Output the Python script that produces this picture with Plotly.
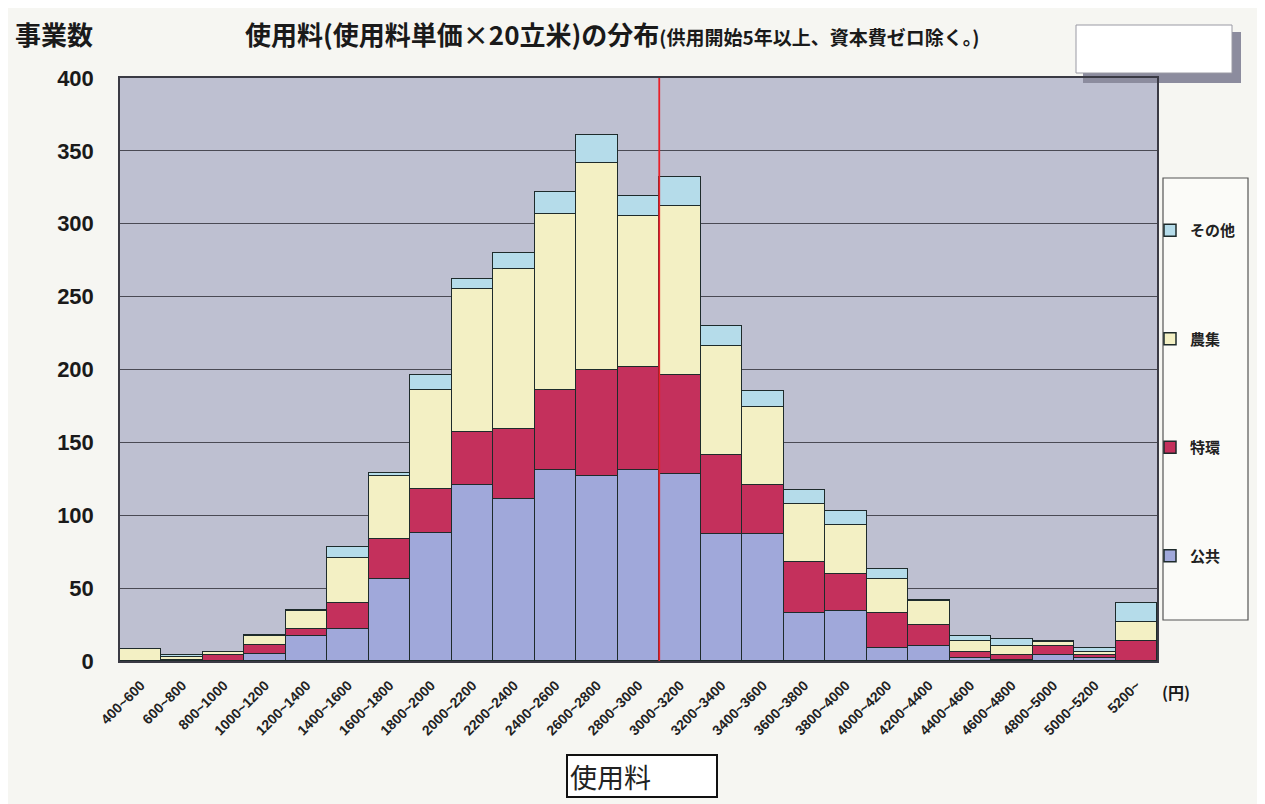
import plotly.graph_objects as go

categories = ["400~600", "600~800", "800~1000", "1000~1200", "1200~1400", "1400~1600",
              "1600~1800", "1800~2000", "2000~2200", "2200~2400", "2400~2600", "2600~2800",
              "2800~3000", "3000~3200", "3200~3400", "3400~3600", "3600~3800", "3800~4000",
              "4000~4200", "4200~4400", "4400~4600", "4600~4800", "4800~5000", "5000~5200",
              "5200~"]

kokyo = [0, 0, 0, 5, 17, 22, 56, 88, 121, 111, 131, 127, 131, 128, 87, 87, 33, 34, 9, 10, 2, 1, 4, 2, 0]
tokkan = [0, 1, 4, 6, 5, 18, 28, 30, 36, 48, 55, 73, 71, 68, 54, 34, 35, 26, 24, 15, 4, 3, 6, 2, 14]
noshu = [8, 2, 2, 6, 12, 31, 43, 68, 98, 110, 121, 142, 103, 116, 75, 53, 40, 33, 23, 16, 8, 6, 3, 2, 13]
sonota = [0, 1, 0, 1, 1, 7, 2, 10, 7, 11, 15, 19, 14, 20, 14, 11, 9, 10, 7, 1, 3, 5, 1, 3, 13]

series_names = ["公共", "特環", "農集", "その他"]
series_values = [kokyo, tokkan, noshu, sonota]
series_colors = ["#A0A8DA", "#C4305C", "#F3F0C4", "#B5DCEA"]

y_ticks = [0, 50, 100, 150, 200, 250, 300, 350, 400]
marker_category = "3000~3200"

# layout geometry: page pixels of the 1265x804 window; the page body has an 8px margin
OFF = 8
W, H = 1265 - OFF, 804 - OFF
PL, PR, PT, PB = 120, 1157, 78, 661


def px2x(px):
    return (px - PL) / (PR - PL)


def px2y(py):
    return (PB - py) / (PB - PT)


JP = "Noto Sans CJK JP"
LAT = "Liberation Sans"

fig = go.Figure()
n = len(series_names)
for i, (name, vals, col) in enumerate(zip(series_names, series_values, series_colors)):
    fig.add_trace(go.Bar(
        x=categories, y=vals, name=name, legendgroup=name, legendrank=n - i,
        marker=dict(color=col, line=dict(color="#1E2B2B", width=1.5)),
    ))

red_x = categories.index(marker_category) - 0.5

fig.update_layout(
    width=W, height=H,
    barmode="stack", bargap=0,
    paper_bgcolor="#F6F6F2", plot_bgcolor="#BEC0D1",
    margin=dict(l=PL - OFF, r=1265 - PR, t=PT - OFF, b=804 - PB, autoexpand=False),
    showlegend=True,
    legend=dict(
        x=px2x(1150), y=px2y(214), xanchor="left", yanchor="top",
        traceorder="grouped", tracegroupgap=86,
        bgcolor="rgba(0,0,0,0)", borderwidth=0,
        font=dict(family=JP, size=15, color="#222222", weight="bold"),
        itemwidth=30,
    ),
    xaxis=dict(
        type="category", tickangle=-45,
        tickfont=dict(family=LAT, size=14, color="#222222", weight="bold"),
        showline=True, linecolor="#3A3A44", linewidth=1.5, mirror=True,
        ticks="", ticklabelstandoff=9, showgrid=False,
    ),
    yaxis=dict(
        range=[0, 400], tickvals=y_ticks,
        tickfont=dict(family=LAT, size=22, color="#1A1A1A", weight="bold"),
        showgrid=True, gridcolor="#4A4A54", gridwidth=1.4,
        showline=True, linecolor="#3A3A44", linewidth=1.5, mirror=True,
        zeroline=False, ticks="", ticklabelstandoff=20,
    ),
    shapes=[
        # outer frame
        dict(type="rect", xref="paper", yref="paper",
             x0=px2x(5), x1=px2x(1262), y0=px2y(830), y1=px2y(7),
             line=dict(color="#666666", width=1.5), fillcolor="rgba(0,0,0,0)", layer="below"),
        # top-right box shadow
        dict(type="rect", xref="paper", yref="paper",
             x0=px2x(1083), x1=px2x(1241), y0=px2y(83), y1=px2y(32),
             line=dict(width=0), fillcolor="#8C8C9E", layer="below"),
        # top-right box
        dict(type="rect", xref="paper", yref="paper",
             x0=px2x(1076), x1=px2x(1232), y0=px2y(73), y1=px2y(25),
             line=dict(color="#9A9AA4", width=1), fillcolor="#FFFFFF", layer="below"),
        # legend box
        dict(type="rect", xref="paper", yref="paper",
             x0=px2x(1163), x1=px2x(1248), y0=px2y(620), y1=px2y(178),
             line=dict(color="#555555", width=1.2), fillcolor="#FBFBF8", layer="below"),
        # red reference line
        dict(type="line", xref="x", yref="paper",
             x0=red_x, x1=red_x, y0=0, y1=1,
             line=dict(color="#E8202A", width=1.8), layer="above"),
    ],
    annotations=[
        dict(text="<b>事業数</b>", xref="paper", yref="paper",
             x=px2x(54), y=px2y(33), xanchor="center", yanchor="middle",
             showarrow=False, font=dict(family=JP, size=26, color="#1A1A1A")),
        dict(text="<b>使用料(使用料単価×20立米)の分布</b>"
                  "<span style='font-size:19px'><b>(供用開始5年以上、資本費ゼロ除く。)</b></span>",
             xref="paper", yref="paper",
             x=px2x(243), y=px2y(33), xanchor="left", yanchor="middle",
             showarrow=False, font=dict(family=JP, size=26, color="#1A1A1A")),
        dict(text="<b>(円)</b>", xref="paper", yref="paper",
             x=px2x(1176), y=px2y(692), xanchor="center", yanchor="middle",
             showarrow=False, font=dict(family=JP, size=16, color="#1A1A1A")),
        dict(text="使用料", xref="paper", yref="paper",
             x=px2x(566), y=px2y(776), xanchor="left", yanchor="middle",
             showarrow=False, align="left", width=144, height=36,
             bordercolor="#111111", borderwidth=2, borderpad=2, bgcolor="#FFFFFF",
             font=dict(family=JP, size=27, color="#222222")),
    ],
)

fig.write_html("out.html")
